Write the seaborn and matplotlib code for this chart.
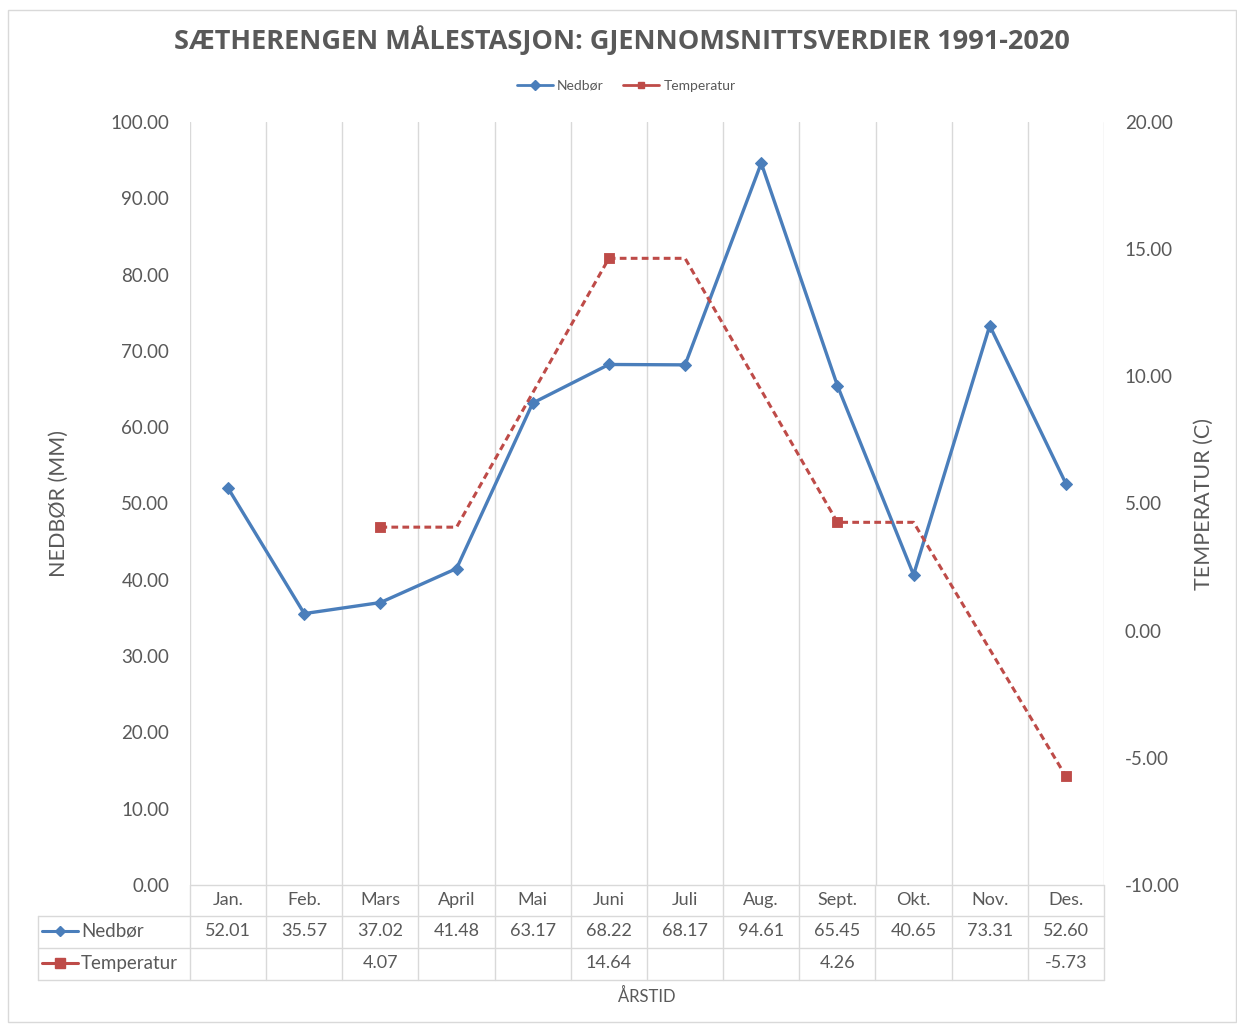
import numpy as np
import pandas as pd
import seaborn as sns
import matplotlib.pyplot as plt
from matplotlib.patches import Rectangle
from matplotlib.lines import Line2D
import matplotlib.transforms as mtransforms

months = ["Jan.", "Feb.", "Mars", "April", "Mai", "Juni", "Juli", "Aug.", "Sept.", "Okt.", "Nov.", "Des."]
nedbor = [52.01, 35.57, 37.02, 41.48, 63.17, 68.22, 68.17, 94.61, 65.45, 40.65, 73.31, 52.60]
# temperature line (Excel draws the season values across two months)
temp_line = [np.nan, np.nan, 4.07, 4.07, np.nan, 14.64, 14.64, np.nan, 4.26, 4.26, np.nan, -5.73]
temp_table = [np.nan, np.nan, 4.07, np.nan, np.nan, 14.64, np.nan, np.nan, 4.26, np.nan, np.nan, -5.73]

blue = "#4A7EBB"
red = "#BE4B48"
grey = "#595959"
grid = "#D9D9D9"

sns.set_style("white")
plt.rcParams['font.family'] = ['Lato', 'DejaVu Sans']

W, H = 1237, 1025
fig = plt.figure(figsize=(W / 100, H / 100), dpi=100)

def fx(px):
    return px / W

def fy(py):
    return 1 - py / H

ax = fig.add_axes([fx(190), fy(885), fx(1104) - fx(190), fy(122) - fy(885)])
ax2 = ax.twinx()

df = pd.DataFrame({"pos": np.arange(12), "month": months, "nedbor": nedbor,
                   "temp_line": temp_line, "temp_table": temp_table})

sns.lineplot(data=df, x="pos", y="nedbor", ax=ax, color=blue, lw=2.4,
             marker="D", markersize=6, markeredgecolor=blue)
sns.lineplot(data=df.dropna(subset=["temp_line"]), x="pos", y="temp_line", ax=ax2,
             color=red, lw=2.2, linestyle=(0, (2.2, 1.4)))
sns.scatterplot(data=df, x="pos", y="temp_table", ax=ax2, color=red, marker="s",
                s=60, edgecolor=red, zorder=5)

ax.set_xlim(-0.5, 11.5)
ax.set_ylim(0, 100)
ax2.set_ylim(-10, 20)
ax.set_yticks(np.arange(0, 101, 10))
ax2.set_yticks(np.arange(-10, 21, 5))
ax.set_yticklabels([f"{v:.2f}" for v in np.arange(0, 101, 10)])
ax2.set_yticklabels([f"{v:.2f}" for v in np.arange(-10, 21, 5)])
for a in (ax, ax2):
    a.tick_params(axis="y", length=0, labelsize=13.5, labelcolor=grey)
    a.set_xlabel("")
    for s in a.spines.values():
        s.set_visible(False)
ax.tick_params(axis="y", pad=15)
ax2.tick_params(axis="y", pad=15)
ax.set_xticks([])
ax2.set_xticks([])

# vertical gridlines at category boundaries
for b in np.arange(-0.5, 12, 1):
    ax.axvline(b, color=grid, lw=1, zorder=0)

ax.set_ylabel("NEDBØR (MM)", fontsize=15.5, color=grey, labelpad=30)
ax2.set_ylabel("TEMPERATUR (C)", fontsize=15.5, color=grey, labelpad=10, rotation=90)

# data table
tb = mtransforms.blended_transform_factory(ax.transData, fig.transFigure)
row_top, row1, row2, row3 = fy(885), fy(916), fy(948), fy(980)
for b in np.arange(-0.5, 12, 1):
    fig.add_artist(Line2D([b, b], [row_top, row3], transform=tb, color=grid, lw=1))
fig.add_artist(Line2D([-0.5, 11.5], [row_top, row_top], transform=tb, color=grid, lw=1))
for yy in (row1, row2, row3):
    fig.add_artist(Line2D([fx(38), fx(1104)], [yy, yy], transform=fig.transFigure, color=grid, lw=1))
fig.add_artist(Line2D([fx(38), fx(38)], [row1, row3], transform=fig.transFigure, color=grid, lw=1))

for i, m in enumerate(months):
    fig.text(i, fy(900), m, transform=tb, ha="center", va="center", fontsize=13, color=grey)
    fig.text(i, fy(931), f"{nedbor[i]:.2f}", transform=tb, ha="center", va="center", fontsize=13, color=grey)
    if not np.isnan(temp_table[i]):
        fig.text(i, fy(963), f"{temp_table[i]:.2f}", transform=tb, ha="center", va="center",
                 fontsize=13, color=grey)

fig.add_artist(Line2D([fx(42), fx(60), fx(78)], [fy(931)] * 3, transform=fig.transFigure, color=blue, lw=2.2,
                      marker="D", markersize=5, markevery=[1], markerfacecolor=blue,
                      markeredgecolor=blue))
fig.add_artist(Line2D([fx(42), fx(60), fx(78)], [fy(963)] * 3, transform=fig.transFigure, color=red, lw=2.2,
                      marker="s", markersize=7, markevery=[1], markerfacecolor=red,
                      markeredgecolor=red))
fig.text(fx(81), fy(931), "Nedbør", ha="left", va="center", fontsize=13.5, color=grey)
fig.text(fx(81), fy(963), "Temperatur", ha="left", va="center", fontsize=13.5, color=grey)

fig.text(fx(647), fy(996), "ÅRSTID", ha="center", va="center", fontsize=12, color=grey)

# title and legend
fig.text(fx(622), fy(40), "SÆTHERENGEN MÅLESTASJON: GJENNOMSNITTSVERDIER 1991-2020",
         ha="center", va="center", fontsize=19.5, fontweight="bold", color=grey,
         family=["Open Sans", "DejaVu Sans"])
handles = [Line2D([], [], color=blue, lw=2, marker="D", markersize=5),
           Line2D([], [], color=red, lw=2, marker="s", markersize=5)]
fig.legend(handles, ["Nedbør", "Temperatur"], loc="center", bbox_to_anchor=(fx(626), fy(86)),
           ncol=2, frameon=False, fontsize=10, handlelength=2.6, handletextpad=0.3,
           columnspacing=1.4, labelcolor=grey)

fig.add_artist(Rectangle((fx(8), fy(1022)), fx(1236) - fx(8), fy(10) - fy(1022),
                         transform=fig.transFigure, fill=False, edgecolor=grid, lw=1))

fig.savefig("out.png", dpi=100)
